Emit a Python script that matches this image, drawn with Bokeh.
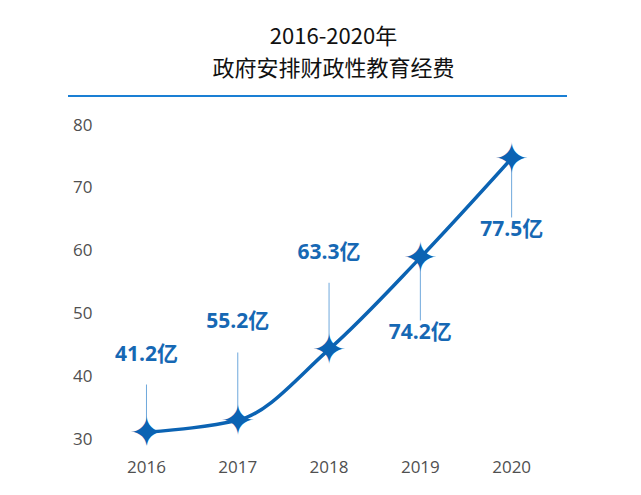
from bokeh.plotting import figure
from bokeh.models import Range1d, FixedTicker, ColumnDataSource, Div
from bokeh.layouts import column
from bokeh.core.properties import value
from bokeh.embed import file_html
from bokeh.resources import INLINE

# data
years = ["2016", "2017", "2018", "2019", "2020"]
values = [31.0, 32.9, 44.2, 58.8, 74.6]
labels = ["41.2亿", "55.2亿", "63.3亿", "74.2亿", "77.5亿"]
y_ticks = [30, 40, 50, 60, 70, 80]

# leader length (in y units) for each label, + is up, - is down
leader = [7.6, 10.8, 10.6, -10.0, -9.4]

BLUE = "#0b63b3"
LABEL_BLUE = "#1668b4"
FONT = "Open Sans, Noto Sans CJK SC"

x = list(range(len(years)))

# monotone cubic tangents -> bezier control points for the smooth line
d = [values[i + 1] - values[i] for i in range(len(values) - 1)]
m = [0.0] * len(values)
for i in range(1, len(values) - 1):
    m[i] = 2.0 / (1.0 / d[i - 1] + 1.0 / d[i])
m[0] = (3 * d[0] - m[1]) / 2
m[-1] = (3 * d[-1] - m[-2]) / 2
bez = ColumnDataSource(dict(
    x0=x[:-1], y0=values[:-1], x1=x[1:], y1=values[1:],
    cx0=[xi + 1 / 3 for xi in x[:-1]],
    cy0=[values[i] + m[i] / 3 for i in range(len(d))],
    cx1=[xi - 1 / 3 for xi in x[1:]],
    cy1=[values[i + 1] - m[i + 1] / 3 for i in range(len(d))],
))

title = Div(
    text="<div style='width:499px;margin-left:63px;border-bottom:2px solid #1a7fd4;"
         "text-align:center;font-family:\"Noto Sans CJK SC\";font-size:22px;color:#111;"
         "line-height:32px;padding:13px 0 13px 0;'>"
         "<div style='margin-left:32px'>2016-2020年</div>"
         "<div style='margin-left:32px'>政府安排财政性教育经费</div></div>",
    width=625, height=92,
)

p = figure(width=625, height=380, output_backend="svg", toolbar_location=None,
           x_range=Range1d(-0.416, 4.59), y_range=Range1d(28.89, 82.23),
           min_border_left=108, min_border_right=52, min_border_top=8,
           min_border_bottom=37, frame_width=457, frame_height=335)
p.outline_line_color = None
p.xgrid.visible = False
p.ygrid.visible = False

# leader lines
tips = [v + l for v, l in zip(values, leader)]
p.segment(x0=x, y0=values, x1=x, y1=tips, line_color="#6fa8dc", line_width=1)

p.bezier(x0="x0", y0="y0", x1="x1", y1="y1", cx0="cx0", cy0="cy0",
         cx1="cx1", cy1="cy1", source=bez, line_color=BLUE, line_width=3.5)

# four-pointed star markers
p.text(x=x, y=values, text=["✦"] * len(x), text_align="center",
       text_baseline="middle", text_font=value("DejaVu Sans"),
       text_font_size="42px", text_color=BLUE)

# value labels above or below the leader
up = [i for i in x if leader[i] > 0]
dn = [i for i in x if leader[i] < 0]
p.text(x=up, y=[tips[i] for i in up], text=[labels[i] for i in up],
       text_align="center", text_baseline="bottom", y_offset=-18,
       text_font=value(FONT), text_font_style="bold", text_font_size="21px",
       text_color=LABEL_BLUE)
p.text(x=dn, y=[tips[i] for i in dn], text=[labels[i] for i in dn],
       text_align="center", text_baseline="top", y_offset=-3,
       text_font=value(FONT), text_font_style="bold", text_font_size="21px",
       text_color=LABEL_BLUE)

for ax in (p.xaxis, p.yaxis):
    ax.axis_line_color = None
    ax.major_tick_line_color = None
    ax.minor_tick_line_color = None
    ax.major_label_text_color = "#505050"
    ax.major_label_text_font = "Open Sans"
    ax.major_label_text_font_size = "17px"
p.yaxis.ticker = FixedTicker(ticks=y_ticks)
p.yaxis.major_label_standoff = 10
p.xaxis.ticker = FixedTicker(ticks=x)
p.xaxis.major_label_overrides = {i: y for i, y in enumerate(years)}
p.xaxis.major_label_standoff = 9

layout = column(title, p, spacing=0)
open("out.html", "w").write(file_html(layout, INLINE))
